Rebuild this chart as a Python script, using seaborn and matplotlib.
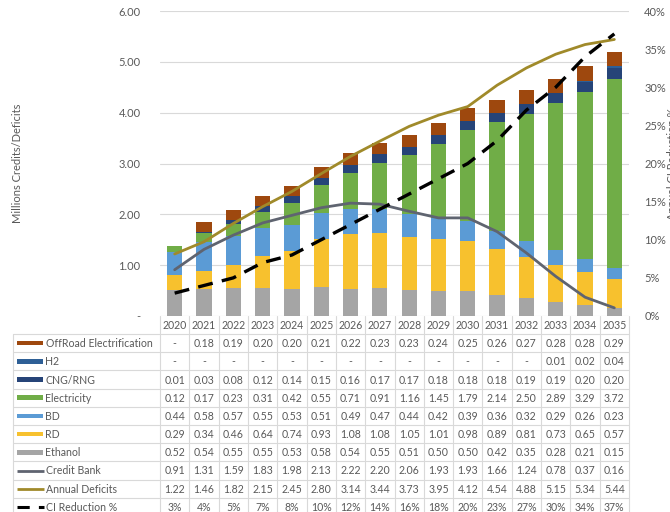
import numpy as np
import pandas as pd
import matplotlib
matplotlib.use("Agg")
import matplotlib.pyplot as plt
from matplotlib.ticker import FuncFormatter, MultipleLocator
import seaborn as sns

# ---------------- data ----------------
years = [str(y) for y in range(2020, 2036)]
offroad = [0.00, 0.18, 0.19, 0.20, 0.20, 0.21, 0.22, 0.23, 0.23, 0.24, 0.25, 0.26, 0.27, 0.28, 0.28, 0.29]
h2 = [0, 0, 0, 0, 0, 0, 0, 0, 0, 0, 0, 0, 0, 0.01, 0.02, 0.04]
cng = [0.01, 0.03, 0.08, 0.12, 0.14, 0.15, 0.16, 0.17, 0.17, 0.18, 0.18, 0.18, 0.19, 0.19, 0.20, 0.20]
electricity = [0.12, 0.17, 0.23, 0.31, 0.42, 0.55, 0.71, 0.91, 1.16, 1.45, 1.79, 2.14, 2.50, 2.89, 3.29, 3.72]
bd = [0.44, 0.58, 0.57, 0.55, 0.53, 0.51, 0.49, 0.47, 0.44, 0.42, 0.39, 0.36, 0.32, 0.29, 0.26, 0.23]
rd = [0.29, 0.34, 0.46, 0.64, 0.74, 0.93, 1.08, 1.08, 1.05, 1.01, 0.98, 0.89, 0.81, 0.73, 0.65, 0.57]
ethanol = [0.52, 0.54, 0.55, 0.55, 0.53, 0.58, 0.54, 0.55, 0.51, 0.50, 0.50, 0.42, 0.35, 0.28, 0.21, 0.15]
credit_bank = [0.91, 1.31, 1.59, 1.83, 1.98, 2.13, 2.22, 2.20, 2.06, 1.93, 1.93, 1.66, 1.24, 0.78, 0.37, 0.16]
annual_deficits = [1.22, 1.46, 1.82, 2.15, 2.45, 2.80, 3.14, 3.44, 3.73, 3.95, 4.12, 4.54, 4.88, 5.15, 5.34, 5.44]
ci_reduction = [3, 4, 5, 7, 8, 10, 12, 14, 16, 18, 20, 23, 27, 30, 34, 37]

# stacking order bottom -> top
bar_names = ["Ethanol", "RD", "BD", "Electricity", "CNG/RNG", "H2", "OffRoad Electrification"]
bar_values = [ethanol, rd, bd, electricity, cng, h2, offroad]
bar_colors = ["#A5A5A5", "#F7C12E", "#5B9BD5", "#70AD47", "#264478", "#2E5F96", "#9E480E"]
c_credit = "#5F6470"
c_deficit = "#A08A2A"
c_ci = "#000000"
txt = "#595959"
grid_c = "#D9D9D9"

# ---------------- theme ----------------
sns.set_theme(style="white")
plt.rcParams["font.family"] = ["Lato", "DejaVu Sans"]

W, H = 670, 512
fig = plt.figure(figsize=(W / 100, H / 100), dpi=100)
L, R, T, B = 160, 629, 11, 316
ax = fig.add_axes([L / W, (H - B) / H, (R - L) / W, (B - T) / H])

df = pd.DataFrame({"year": years})
cum = np.zeros(len(years))
cums = []
for v in bar_values:
    cum = cum + np.array(v)
    cums.append(cum.copy())

# draw cumulative totals from top layer down so lower layers cover upper
for name, c, col in reversed(list(zip(bar_names, cums, bar_colors))):
    d = df.copy()
    d["val"] = c
    sns.barplot(data=d, x="year", y="val", color=col, saturation=1,
                width=0.52, errorbar=None, linewidth=0, ax=ax, zorder=2)

pos = np.arange(len(years))
sns.lineplot(x=pos, y=credit_bank, color=c_credit, lw=2.0, ax=ax, zorder=3)
sns.lineplot(x=pos, y=annual_deficits, color=c_deficit, lw=2.0, ax=ax, zorder=3)

ax.set_xlim(-0.5, len(years) - 0.5)
ax.set_ylim(0, 6)
ax.yaxis.set_major_locator(MultipleLocator(1))
ax.yaxis.set_major_formatter(FuncFormatter(lambda v, p: "-" if abs(v) < 1e-9 else f"{v:.2f}"))
ax.set_xticks([])
ax.set_xlabel("")
ax.set_ylabel("Millions Credits/Deficits", color=txt, fontsize=8)
ax.yaxis.set_label_coords(-(L - 23) / (R - L), 0.5)
ax.tick_params(axis="y", length=0, pad=14, labelsize=8, labelcolor=txt)
ax.grid(axis="y", color=grid_c, lw=0.8)
ax.set_axisbelow(True)
for s in ax.spines.values():
    s.set_visible(False)

ax2 = ax.twinx()
sns.lineplot(x=pos, y=np.array(ci_reduction) / 100.0, color=c_ci, lw=2.4,
             ax=ax2, zorder=4)
ax2.lines[-1].set_dashes((4.5, 2.8))
ax2.set_ylim(0, 0.40)
ax2.yaxis.set_major_locator(MultipleLocator(0.05))
ax2.yaxis.set_major_formatter(FuncFormatter(lambda v, p: f"{v * 100:.0f}%"))
ax2.tick_params(axis="y", length=0, pad=11, labelsize=8, labelcolor=txt)
ax2.set_ylabel("Annual CI Reduction %", color=txt, fontsize=8, rotation=90)
ax2.yaxis.set_label_coords((667 - L) / (R - L), 0.5)
ax2.set_xlim(-0.5, len(years) - 0.5)
for s in ax2.spines.values():
    s.set_visible(False)

# ---------------- data table ----------------
tb = fig.add_axes([0, 0, 1, 1], zorder=5)
tb.set_xlim(0, W)
tb.set_ylim(H, 0)
tb.axis("off")
tb.patch.set_alpha(0)

ncol = len(years)
cw = (R - L) / ncol
row_h = 18.2
hdr_top, hdr_bot = B, 334
fs = 7.6

# header years
for i, y in enumerate(years):
    tb.text(L + cw * (i + 0.5), (hdr_top + hdr_bot) / 2 + 0.5, y, ha="center", va="center",
            fontsize=fs, color=txt)

table_rows = [
    ("OffRoad Electrification", offroad, "bar", "#9E480E", "num"),
    ("H2", h2, "bar", "#2E5F96", "num"),
    ("CNG/RNG", cng, "bar", "#264478", "num"),
    ("Electricity", electricity, "bar", "#70AD47", "num"),
    ("BD", bd, "bar", "#5B9BD5", "num"),
    ("RD", rd, "bar", "#F7C12E", "num"),
    ("Ethanol", ethanol, "bar", "#A5A5A5", "num"),
    ("Credit Bank", credit_bank, "line", c_credit, "num"),
    ("Annual Deficits", annual_deficits, "line", c_deficit, "num"),
    ("CI Reduction %", ci_reduction, "dash", c_ci, "pct"),
]
n_rows = len(table_rows)
x0 = 13
bottom_edge = hdr_bot + row_h * n_rows

# grid lines
for k in range(n_rows + 1):
    yy = hdr_bot + row_h * k
    tb.plot([x0, R], [yy, yy], color=grid_c, lw=0.8)
tb.plot([x0, x0], [hdr_bot, bottom_edge], color=grid_c, lw=0.8)
for i in range(ncol + 1):
    xx = L + cw * i
    tb.plot([xx, xx], [hdr_top, bottom_edge], color=grid_c, lw=0.8)

for k, (name, vals, kind, col, fmt) in enumerate(table_rows):
    yc = hdr_bot + row_h * (k + 0.5)
    if kind == "bar":
        tb.add_patch(plt.Rectangle((17, yc - 2.3), 26, 4.6, color=col, lw=0))
    elif kind == "line":
        tb.plot([17, 44], [yc, yc], color=col, lw=2.0, solid_capstyle="butt")
    else:
        tb.plot([17, 44], [yc, yc], color=col, lw=2.2, dashes=(4.0, 3.0))
    tb.text(45.5, yc + 0.5, name, ha="left", va="center", fontsize=fs, color=txt)
    for i, v in enumerate(vals):
        if fmt == "pct":
            s = f"{v:.0f}%"
        else:
            s = "-" if abs(v) < 1e-9 else f"{v:.2f}"
        tb.text(L + cw * (i + 0.5), yc + 0.5, s, ha="center", va="center",
                fontsize=fs, color=txt)

fig.savefig("out.png", dpi=100)
